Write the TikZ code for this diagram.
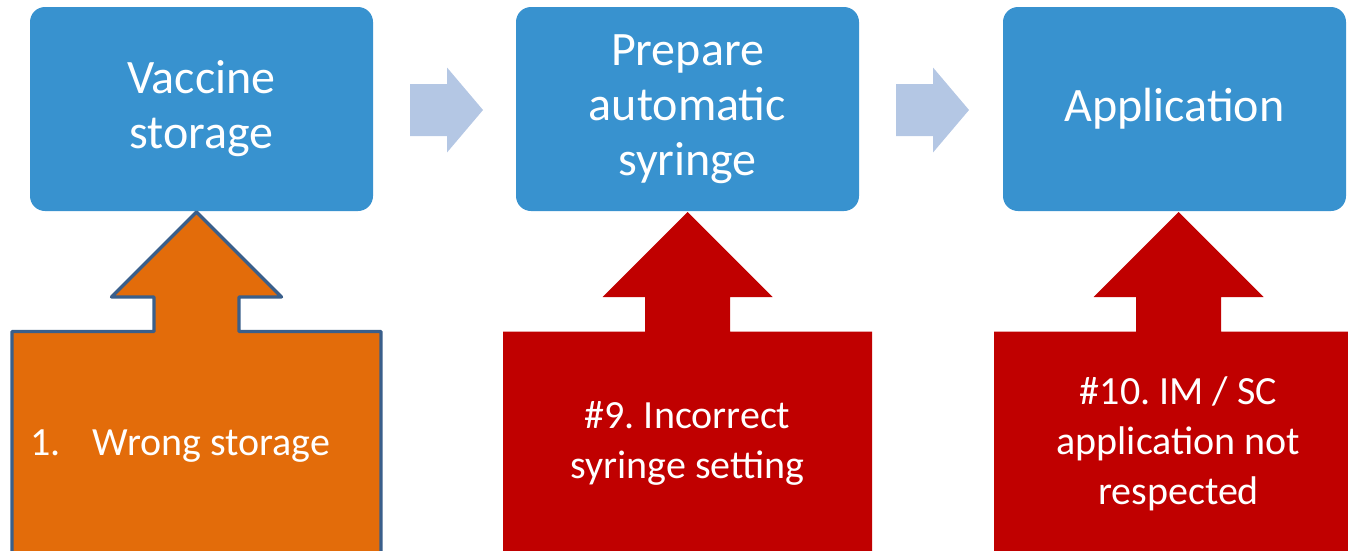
\documentclass[tikz,border=0pt]{standalone}
\usepackage{fontspec}
\setmainfont{Carlito}
\frenchspacing
\usetikzlibrary{calc}
\definecolor{stepblue}{RGB}{56,146,207}
\definecolor{flowgrey}{RGB}{180,199,228}
\definecolor{riskorange}{RGB}{227,108,10}
\definecolor{riskred}{RGB}{192,0,0}
\definecolor{riskedge}{RGB}{58,95,139}
\tikzset{
  stepbox/.style={fill=stepblue, rounded corners=15pt, minimum width=343pt,
    minimum height=204pt, text=white, align=center, inner sep=0pt,
    font=\fontsize{48}{55}\selectfont},
  risktext/.style={text=white, align=center, inner sep=0pt,
    font=\fontsize{40}{50}\selectfont},
  % block arrow pointing right, centred on the pic origin
  pics/flowarrow/.style={code={
    \fill[flowgrey] (-36.5,-26) -- (0.5,-26) -- (0.5,-42.5) -- (36.5,0)
      -- (0.5,42.5) -- (0.5,26) -- (-36.5,26) -- cycle;}},
  % up-arrow callout below a step; #1 fill, #2 extra path options
  pics/riskarrow/.style n args={2}{code={
    \path[fill=#1, #2] (0,212) -- (85,297) -- (42.5,297) -- (42.5,331.5)
      -- (184.5,331.5) -- (184.5,560) -- (-184.5,560) -- (-184.5,331.5)
      -- (-42.5,331.5) -- (-42.5,297) -- (-85,297) -- cycle;}},
}
\begin{document}
\begin{tikzpicture}[x=1pt, y=-1pt]
  \useasboundingbox (0,0) rectangle (1348,550);
  \clip (0,0) rectangle (1348,550);

  % process steps
  \node[stepbox] (s1) at (201.5,109) {Vaccine\\storage};
  \node[stepbox] (s2) at (687.5,109) {Prepare\\automatic\\syringe};
  \node[stepbox] (s3) at (1174.5,109) {Application};

  % flow arrows between the steps
  \coordinate (f1) at ($(s1.east)!0.5!(s2.west)+(2,1)$);
  \coordinate (f2) at ($(s2.east)!0.5!(s3.west)+(1.5,1)$);
  \pic at (f1) {flowarrow};
  \pic at (f2) {flowarrow};

  % failure modes feeding each step
  \pic at (196.5,0) {riskarrow={riskorange}{draw=riskedge, line width=3.3pt, line join=round}};
  \pic at (687.5,0) {riskarrow={riskred}{}};
  \pic at (1178.5,0) {riskarrow={riskred}{}};

  \node[risktext, anchor=base west] (e1) at (30,455) {1.\hspace{32pt}Wrong storage};
  \node[risktext] (e2) at (687.5,443) {\#9. Incorrect\\syringe setting};
  \node[risktext] (e3) at (1178.5,444) {\#10. IM / SC\\application not\\respected};
\end{tikzpicture}
\end{document}
